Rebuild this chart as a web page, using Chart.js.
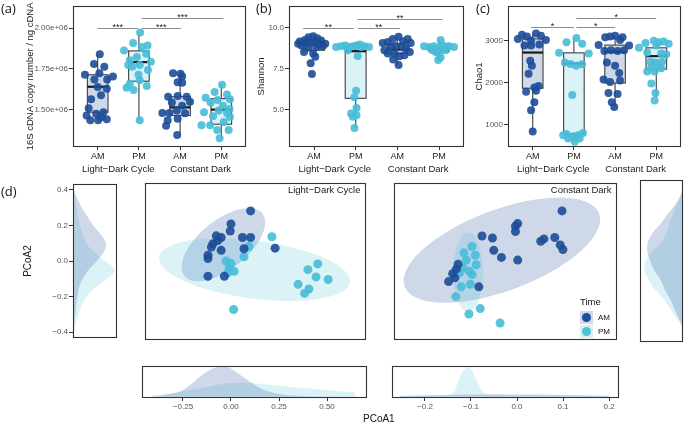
<!DOCTYPE html>
<html>
<head>
<meta charset="utf-8">
<title>Circadian gut microbiome – panels a–d</title>
<script src="https://cdn.jsdelivr.net/npm/chart.js@4.4.1/dist/chart.umd.min.js"></script>
<style>
  html, body { margin: 0; padding: 0; background: #fff; }
  #page { position: relative; width: 685px; height: 425px; overflow: hidden;
          font-family: "Liberation Sans", Arial, sans-serif; }
  #page canvas { position: absolute; }
  .tag { position: absolute; font-family: "Open Sans", sans-serif; font-size: 13px; line-height: 1; color: #111; }
  .txt { position: absolute; line-height: 1; color: #111; white-space: nowrap; }
  .key { position: absolute; width: 13px; height: 13px; }
  .key i { position: absolute; left: 2px; top: 2px; width: 9px; height: 9px; border-radius: 50%; }
</style>
</head>
<body>
<div id="page">
  <canvas id="chA" width="250" height="178" style="left:0;top:0"></canvas>
  <canvas id="chB" width="230" height="178" style="left:238px;top:0"></canvas>
  <canvas id="chC" width="217" height="178" style="left:468px;top:0"></canvas>
  <canvas id="denL" width="120" height="166" style="left:0;top:178px"></canvas>
  <canvas id="scLD" width="230" height="166" style="left:140px;top:178px"></canvas>
  <canvas id="scCD" width="232" height="166" style="left:389px;top:178px"></canvas>
  <canvas id="denR" width="47" height="166" style="left:638px;top:178px"></canvas>
  <canvas id="denBLD" width="230" height="50" style="left:140px;top:364px"></canvas>
  <canvas id="denBCD" width="232" height="50" style="left:390px;top:364px"></canvas>

  <div class="tag" style="left:1px;top:2px">(a)</div>
  <div class="tag" style="left:256px;top:2px">(b)</div>
  <div class="tag" style="left:476px;top:2px">(c)</div>
  <div class="tag" style="left:1px;top:185px">(d)</div>
  <div class="txt" style="left:363px;top:414px;font-size:10px">PCoA1</div>

  <div class="txt" style="left:580px;top:297px;font-size:9.5px">Time</div>
  <div class="key" style="left:580px;top:311px;background:#d2d9ea"><i style="background:#1f4e9a"></i></div>
  <div class="txt" style="left:598px;top:314px;font-size:8px">AM</div>
  <div class="key" style="left:580px;top:325px;background:#d8f0f6"><i style="background:#4fc0d9"></i></div>
  <div class="txt" style="left:598px;top:328px;font-size:8px">PM</div>
</div>

<script>
// ---------- data ----------
const GROUPS = ["AM", "PM", "AM", "PM"];
const CONDITIONS = ["Light−Dark Cycle", "Constant Dark"];

// (a) 16S cDNA copy number / ng cDNA
const copyTicks = [1.5e6, 1.75e6, 2.0e6];
const copyTickLabels = ["1.50e+06", "1.75e+06", "2.00e+06"];
// [lower whisker, Q1, median, Q3, upper whisker]
const copyBox = [
  [1.432e6, 1.482e6, 1.639e6, 1.713e6, 1.843e6],
  [1.432e6, 1.673e6, 1.791e6, 1.860e6, 1.974e6],
  [1.342e6, 1.462e6, 1.512e6, 1.578e6, 1.727e6],
  [1.321e6, 1.408e6, 1.498e6, 1.566e6, 1.652e6],
];
// [jittered group position, value]
const copyLdAM = [[1.05,1.839e6],[0.91,1.779e6],[1.16,1.763e6],[0.69,1.713e6],[1.04,1.723e6],[1.37,1.703e6],
  [0.92,1.683e6],[1.23,1.683e6],[1.00,1.637e6],[1.22,1.627e6],[1.08,1.586e6],[0.84,1.562e6],[0.78,1.506e6],
  [0.96,1.472e6],[1.14,1.482e6],[0.73,1.462e6],[1.09,1.452e6],[1.22,1.438e6],[0.82,1.432e6],[1.01,1.432e6]];
const copyLdPM = [[2.03,1.974e6],[1.86,1.908e6],[2.07,1.884e6],[1.64,1.863e6],[2.21,1.893e6],[1.78,1.803e6],
  [1.95,1.823e6],[2.18,1.843e6],[2.29,1.793e6],[1.74,1.773e6],[2.02,1.773e6],[1.84,1.763e6],[2.22,1.743e6],
  [1.99,1.713e6],[1.78,1.658e6],[2.02,1.679e6],[2.19,1.643e6],[1.70,1.633e6],[1.87,1.619e6],[2.02,1.432e6]];
const copyCdAM = [[3.01,1.719e6],[2.83,1.723e6],[3.05,1.703e6],[2.94,1.667e6],[3.05,1.663e6],[2.71,1.578e6],
  [2.94,1.582e6],[3.16,1.578e6],[3.24,1.546e6],[2.80,1.542e6],[3.05,1.522e6],[2.57,1.478e6],[2.74,1.478e6],
  [2.92,1.492e6],[3.12,1.476e6],[2.70,1.432e6],[2.94,1.442e6],[2.66,1.398e6],[2.93,1.342e6]];
const copyCdPM = [[4.02,1.652e6],[3.84,1.607e6],[4.14,1.592e6],[3.62,1.572e6],[3.91,1.558e6],[4.21,1.562e6],
  [3.74,1.542e6],[4.04,1.522e6],[4.20,1.502e6],[3.58,1.482e6],[3.94,1.492e6],[4.14,1.478e6],[3.80,1.458e6],
  [4.21,1.452e6],[3.52,1.402e6],[3.73,1.402e6],[4.06,1.422e6],[4.18,1.372e6],[3.90,1.372e6],[3.96,1.321e6]];
// [from, to, height, label]
const copySig = [[1, 1.97, 2.0e6, "***"], [2.07, 3.02, 2.0e6, "***"], [2.07, 4.05, 2.06e6, "***"]];

// (b) Shannon
const shanTicks = [5, 7.5, 10];
const shanTickLabels = ["5.0", "7.5", "10.0"];
const shanBox = [
  [8.21, 8.61, 8.95, 9.14, 9.47],
  [3.85, 5.67, 8.55, 8.60, 8.96],
  [7.71, 8.41, 8.65, 9.01, 9.44],
  [8.01, 8.55, 8.65, 8.85, 9.24],
];
const shanLdAM = [[0.66,9.14],[0.78,9.24],[0.87,9.40],[0.98,9.47],[1.08,9.34],[1.17,9.20],[1.27,9.01],
  [0.70,8.90],[0.82,9.05],[0.94,9.11],[1.03,9.14],[1.13,8.96],[0.87,8.76],[1.06,8.81],[0.76,8.51],
  [0.98,8.41],[1.03,8.21],[0.92,7.82],[0.95,7.16],[1.21,8.85],[0.62,9.01]];
const shanLdPM = [[1.53,8.81],[1.65,8.85],[1.75,8.90],[1.85,8.81],[1.94,8.85],[2.02,8.90],[2.10,8.96],
  [2.21,8.85],[2.32,8.81],[1.81,8.61],[2.05,8.26],[2.01,6.13],[1.97,5.73],[2.02,5.08],[1.89,4.74],
  [2.02,4.64],[1.93,4.54],[1.97,3.85],[2.13,8.81]];
const shanCdAM = [[2.65,9.05],[2.77,9.11],[2.89,9.30],[3.03,9.44],[3.14,9.16],[3.25,9.30],[3.32,9.05],
  [2.69,8.61],[2.85,8.81],[2.97,8.85],[3.11,8.85],[3.21,8.71],[3.30,8.51],[2.77,8.41],[2.93,8.41],
  [3.05,8.25],[3.17,8.31],[2.90,8.05],[3.03,7.71]];
const shanCdPM = [[3.64,8.85],[3.76,8.81],[3.88,8.85],[4.00,8.78],[4.10,8.90],[4.20,8.81],[4.36,8.81],
  [3.84,8.61],[3.96,8.65],[4.08,8.65],[4.16,8.61],[4.00,8.41],[3.92,8.51],[4.04,9.24],[4.04,8.17],
  [3.98,8.01],[4.24,8.85]];
const shanSig = [[0.74, 1.95, 9.96, "**"], [2.05, 3.06, 9.96, "**"], [2.05, 4.08, 10.55, "**"]];

// (c) Chao1
const chaoTicks = [1000, 2000, 3000];
const chaoTickLabels = ["1000", "2000", "3000"];
const chaoBox = [
  [830, 1861, 2714, 3040, 3170],
  [581, 767, 2451, 2707, 3063],
  [1412, 1986, 2730, 2892, 3116],
  [1644, 2319, 2628, 2827, 3032],
];
const chaoLdAM = [[0.64,3040],[0.74,3141],[0.86,3094],[0.96,3000],[1.08,3170],[1.20,3116],[1.32,3016],
  [0.80,2884],[0.96,2884],[1.16,2908],[0.94,2520],[0.98,2396],[0.90,2209],[1.14,1916],[1.04,1877],
  [0.84,1777],[1.08,1800],[1.04,1528],[0.96,1335],[1.00,830]];
const chaoLdPM = [[1.64,2707],[1.82,2962],[2.06,3063],[2.20,2923],[2.36,2690],[1.78,2473],[1.92,2442],
  [2.06,2396],[2.20,2434],[1.96,1699],[1.82,767],[1.98,713],[2.10,737],[2.22,791],[1.74,737],
  [1.86,659],[2.14,659],[2.02,581]];
const chaoCdAM = [[2.60,2892],[2.76,3079],[2.88,3094],[3.00,3116],[3.12,3016],[3.18,3079],[3.34,2884],
  [2.74,2753],[2.90,2768],[3.06,2753],[3.22,2768],[2.80,2473],[3.00,2396],[3.10,2225],[2.72,2070],
  [2.88,2008],[3.12,2047],[2.84,1746],[3.06,1722],[2.92,1528],[2.98,1412]];
const chaoCdPM = [[3.58,2827],[3.74,2942],[3.94,2996],[4.06,2962],[4.18,2980],[4.30,2923],[4.00,2884],
  [3.78,2715],[4.12,2690],[4.24,2675],[3.86,2496],[3.98,2473],[4.14,2496],[3.88,2364],[4.04,2380],
  [3.78,2264],[3.96,2264],[4.12,2341],[3.88,1977],[3.98,1745],[3.96,1567]];
const chaoSig = [[0.96, 2.0, 3312, "*"], [2.06, 3.0, 3312, "*"], [2.06, 4.0, 3528, "*"]];

// (d) PCoA coordinates [PCoA1, PCoA2]
const ldAM = [[0.099,0.277],[-0.005,0.205],[-0.009,0.166],[-0.083,0.139],[-0.057,0.130],[0.056,0.130],
  [0.099,0.130],[-0.101,0.095],[-0.109,0.077],[-0.057,0.059],[0.064,0.068],[-0.127,0.032],[-0.127,0.014],
  [-0.127,-0.084],[-0.040,-0.084],[0.229,0.071],[-0.075,0.113]];
const ldPM = [[0.212,0.134],[0.090,0.080],[0.064,0.023],[-0.031,0.000],[-0.005,-0.013],[-0.014,-0.039],
  [0.012,-0.057],[-0.022,-0.066],[0.455,-0.016],[0.403,-0.048],[0.446,-0.088],[0.510,-0.102],
  [0.351,-0.129],[0.408,-0.155],[0.385,-0.179],[0.009,-0.268]];
const cdAM = [[0.099,0.277],[0.001,0.207],[-0.004,0.193],[-0.004,0.163],[-0.078,0.138],[-0.055,0.127],
  [0.052,0.109],[0.059,0.122],[0.083,0.130],[0.095,0.089],[0.101,0.063],[-0.052,0.059],[-0.035,0.020],
  [0.001,0.005],[-0.131,-0.018],[-0.135,-0.045],[-0.143,-0.070],[-0.152,-0.114],[-0.085,-0.143],[-0.138,-0.093]];
const cdPM = [[-0.100,0.080],[-0.118,0.045],[-0.093,0.032],[-0.113,0.005],[-0.091,-0.021],[-0.120,-0.039],
  [-0.106,-0.057],[-0.128,-0.066],[-0.100,-0.075],[-0.124,-0.143],[-0.104,-0.129],[-0.136,-0.197],
  [-0.082,-0.263],[-0.107,-0.293],[-0.038,-0.343]];
// 95% ellipses: centre and two half-axis vectors, data units
const ldEllAM = { c: [-0.045, 0.090], u: [0.205, 0.174], v: [0.083, -0.103] };
const ldEllPM = { c: [0.120, -0.048], u: [0.506, -0.069], v: [-0.020, -0.159] };
const cdEllAM = { c: [-0.034, 0.060], u: [0.215, 0.202], v: [0.032, -0.209] };
const cdEllPM = { c: [-0.109, -0.061], u: [0.0, 0.219], v: [0.033, 0.0] };

// marginal densities (relative height)
const pc2Grid = [0.40,0.35,0.30,0.25,0.20,0.15,0.10,0.05,0.00,-0.05,-0.10,-0.15,-0.20,-0.25,-0.30,-0.35,-0.40];
const ldDen2AM = [0.02,0.10,0.20,0.33,0.46,0.63,0.75,0.70,0.54,0.35,0.22,0.14,0.10,0.07,0.05,0.03,0.01];
const ldDen2PM = [0.02,0.05,0.08,0.11,0.16,0.22,0.30,0.48,0.73,0.95,0.77,0.50,0.31,0.20,0.12,0.07,0.02];
const cdDen2AM = [0.00,0.06,0.19,0.36,0.52,0.71,0.82,0.83,0.76,0.67,0.52,0.43,0.31,0.21,0.12,0.02,0.00];
const cdDen2PM = [0.00,0.06,0.15,0.24,0.32,0.38,0.50,0.72,0.87,0.90,0.80,0.66,0.47,0.31,0.18,0.02,0.00];
const ldPc1Grid = [-0.41,-0.35,-0.30,-0.25,-0.20,-0.15,-0.10,-0.05,0.00,0.05,0.10,0.15,0.20,0.25,0.30,0.40,0.50,0.60,0.646];
const ldDen1AM = [0.00,0.05,0.11,0.22,0.44,0.70,0.89,0.97,0.91,0.69,0.48,0.28,0.16,0.09,0.05,0.02,0.01,0.00,0.00];
const ldDen1PM = [0.05,0.08,0.11,0.18,0.23,0.29,0.35,0.40,0.44,0.45,0.44,0.42,0.39,0.36,0.32,0.27,0.21,0.16,0.14];
const cdPc1Grid = [-0.254,-0.20,-0.16,-0.146,-0.135,-0.124,-0.113,-0.106,-0.099,-0.088,-0.077,-0.066,-0.044,0.0,0.05,0.10,0.15,0.20];
const cdDen1AM = [0.03,0.05,0.06,0.06,0.065,0.065,0.07,0.07,0.07,0.07,0.075,0.075,0.08,0.07,0.07,0.06,0.05,0.03];
const cdDen1PM = [0.02,0.03,0.04,0.06,0.22,0.65,0.91,0.95,0.88,0.54,0.22,0.09,0.05,0.04,0.035,0.03,0.025,0.02];

const pc2Ticks = [-0.4, -0.2, 0, 0.2, 0.4];
const pc2TickLabels = ["−0.4", "−0.2", "0.0", "0.2", "0.4"];
const ldPc1Ticks = [-0.25, 0, 0.25, 0.5];
const ldPc1TickLabels = ["−0.25", "0.00", "0.25", "0.50"];
const cdPc1Ticks = [-0.2, -0.1, 0, 0.1, 0.2];
const cdPc1TickLabels = ["−0.2", "−0.1", "0.0", "0.1", "0.2"];

// ---------- styling ----------
const AM_PT = "rgba(29,76,152,0.9)";
const PM_PT = "rgba(72,189,216,0.9)";
const AM_FILL = "rgba(31,78,154,0.22)";
const PM_FILL = "rgba(77,191,217,0.2)";
const INK = "#1a1a1a";
const TICK = "#555";
const FONT = "'Liberation Sans', Arial, sans-serif";

Chart.defaults.font.family = FONT;
Chart.defaults.animation = false;
Chart.defaults.plugins.legend.display = false;
Chart.defaults.plugins.tooltip.enabled = false;

const xy = (arr) => arr.map(([x, y]) => ({ x, y }));
const setTicks = (vals) => (axis) => { axis.ticks = vals.map((v) => ({ value: v })); };

const frame = {
  id: "frame",
  afterDraw(chart) {
    const { ctx, chartArea: a } = chart;
    ctx.save();
    ctx.strokeStyle = "#333";
    ctx.lineWidth = 1.1;
    ctx.strokeRect(Math.round(a.left) + 0.5, Math.round(a.top) + 0.5,
      Math.round(a.right - a.left) - 1, Math.round(a.bottom - a.top) - 1);
    ctx.restore();
  },
};

function boxes(stats) {
  return {
    id: "boxes",
    beforeDatasetsDraw(chart) {
      const { ctx, scales: { x, y } } = chart;
      ctx.save();
      stats.forEach(([lo, q1, med, q3, hi], i) => {
        const cx = x.getPixelForValue(i + 1);
        const hw = x.getPixelForValue(i + 1.25) - cx;
        ctx.strokeStyle = "#4d4d4d";
        ctx.lineWidth = 1.2;
        ctx.beginPath();
        ctx.moveTo(cx, y.getPixelForValue(hi)); ctx.lineTo(cx, y.getPixelForValue(q3));
        ctx.moveTo(cx, y.getPixelForValue(q1)); ctx.lineTo(cx, y.getPixelForValue(lo));
        ctx.stroke();
        const top = y.getPixelForValue(q3), bot = y.getPixelForValue(q1);
        ctx.fillStyle = i % 2 ? PM_FILL : AM_FILL;
        ctx.fillRect(cx - hw, top, 2 * hw, bot - top);
        ctx.strokeRect(cx - hw, top, 2 * hw, bot - top);
        ctx.strokeStyle = INK;
        ctx.lineWidth = 2.2;
        ctx.beginPath();
        ctx.moveTo(cx - hw, y.getPixelForValue(med)); ctx.lineTo(cx + hw, y.getPixelForValue(med));
        ctx.stroke();
      });
      ctx.restore();
    },
  };
}

function brackets(list) {
  return {
    id: "brackets",
    afterDatasetsDraw(chart) {
      const { ctx, scales: { x, y } } = chart;
      ctx.save();
      ctx.strokeStyle = "#8c8c8c";
      ctx.lineWidth = 1;
      ctx.fillStyle = INK;
      ctx.font = `9px ${FONT}`;
      ctx.textAlign = "center";
      ctx.textBaseline = "alphabetic";
      list.forEach(([a, b, v, lab]) => {
        const py = Math.round(y.getPixelForValue(v)) + 0.5;
        ctx.beginPath();
        ctx.moveTo(x.getPixelForValue(a), py); ctx.lineTo(x.getPixelForValue(b), py);
        ctx.stroke();
        ctx.fillText(lab, (x.getPixelForValue(a) + x.getPixelForValue(b)) / 2, py + 1.5);
      });
      ctx.restore();
    },
  };
}

const groupLabels = {
  id: "groupLabels",
  afterDraw(chart) {
    const { ctx, chartArea: a, scales: { x } } = chart;
    ctx.save();
    ctx.fillStyle = INK;
    ctx.font = `9.5px ${FONT}`;
    ctx.textAlign = "center";
    ctx.textBaseline = "middle";
    CONDITIONS.forEach((c, i) => ctx.fillText(c, x.getPixelForValue(1.5 + 2 * i), a.bottom + 22.5));
    ctx.restore();
  },
};

function boxChart(id, o) {
  const pts = [o.ldAM, o.ldPM, o.cdAM, o.cdPM];
  return new Chart(document.getElementById(id), {
    type: "scatter",
    data: {
      datasets: pts.map((p, i) => ({
        data: xy(p), backgroundColor: i % 2 ? PM_PT : AM_PT, borderWidth: 0,
        pointRadius: 4, pointHoverRadius: 4,
      })),
    },
    options: {
      responsive: false,
      layout: { padding: { left: 0, top: 1, right: o.padRight, bottom: 0 } },
      scales: {
        x: {
          type: "linear", min: 0.4, max: 4.6,
          afterBuildTicks: setTicks([1, 2, 3, 4]),
          afterFit: (a) => { a.height = 31; },
          border: { display: false },
          grid: { drawOnChartArea: false, tickLength: 3, color: "#333" },
          ticks: { color: INK, font: { size: 9 }, padding: 1, autoSkip: false, maxRotation: 0,
            callback: (v, i) => GROUPS[i] },
        },
        y: {
          min: o.min, max: o.max,
          afterBuildTicks: setTicks(o.ticks),
          afterFit: (a) => { a.width = o.yWidth; },
          border: { display: false },
          grid: { drawOnChartArea: false, tickLength: 4, color: "#333" },
          ticks: { color: TICK, font: { size: 8 }, padding: 1, autoSkip: false,
            callback: (v, i) => o.tickLabels[i] },
          title: { display: true, text: o.title, color: INK, font: { size: 9.5 },
            padding: { top: o.titlePad, bottom: 0 } },
        },
      },
    },
    plugins: [boxes(o.box), brackets(o.sig), groupLabels, frame],
  });
}

boxChart("chA", { ldAM: copyLdAM, ldPM: copyLdPM, cdAM: copyCdAM, cdPM: copyCdPM, box: copyBox,
  sig: copySig, ticks: copyTicks, tickLabels: copyTickLabels, min: 1.2677e6, max: 2.138e6,
  title: "16S cDNA copy number / ng cDNA", titlePad: 25, yWidth: 73, padRight: 3 });
boxChart("chB", { ldAM: shanLdAM, ldPM: shanLdPM, cdAM: shanCdAM, cdPM: shanCdPM, box: shanBox,
  sig: shanSig, ticks: shanTicks, tickLabels: shanTickLabels, min: 2.696, max: 11.327,
  title: "Shannon", titlePad: 18, yWidth: 51, padRight: 2 });
boxChart("chC", { ldAM: chaoLdAM, ldPM: chaoLdPM, cdAM: chaoCdAM, cdPM: chaoCdPM, box: chaoBox,
  sig: chaoSig, ticks: chaoTicks, tickLabels: chaoTickLabels, min: 458, max: 3830,
  title: "Chao1", titlePad: 6, yWidth: 40, padRight: 2 });

// ---------- (d) ordination ----------
const PC2_MIN = -0.434, PC2_MAX = 0.434;
const LD_X = [-0.4635, 0.7083];
const CD_X = [-0.2739, 0.2196];

function ellipses(list) {
  return {
    id: "ellipses",
    beforeDatasetsDraw(chart) {
      const { ctx, chartArea: a, scales: { x, y } } = chart;
      ctx.save();
      ctx.beginPath();
      ctx.rect(a.left, a.top, a.right - a.left, a.bottom - a.top);
      ctx.clip();
      list.forEach((e, i) => {
        ctx.beginPath();
        for (let k = 0; k <= 96; k++) {
          const t = (k / 96) * 2 * Math.PI;
          const px = x.getPixelForValue(e.c[0] + e.u[0] * Math.cos(t) + e.v[0] * Math.sin(t));
          const py = y.getPixelForValue(e.c[1] + e.u[1] * Math.cos(t) + e.v[1] * Math.sin(t));
          if (k) ctx.lineTo(px, py); else ctx.moveTo(px, py);
        }
        ctx.closePath();
        ctx.fillStyle = i ? PM_FILL : AM_FILL;
        ctx.fill();
      });
      ctx.restore();
    },
  };
}

function corner(text) {
  return {
    id: "corner",
    afterDraw(chart) {
      const { ctx, chartArea: a } = chart;
      ctx.save();
      ctx.fillStyle = INK;
      ctx.font = `9.5px ${FONT}`;
      ctx.textAlign = "right";
      ctx.textBaseline = "middle";
      ctx.fillText(text, a.right - 5, a.top + 8);
      ctx.restore();
    },
  };
}

function pcoaChart(id, am, pm, xr, ells, label) {
  return new Chart(document.getElementById(id), {
    type: "scatter",
    data: {
      datasets: [
        { data: xy(am), backgroundColor: AM_PT, borderWidth: 0, pointRadius: 4.5, pointHoverRadius: 4.5 },
        { data: xy(pm), backgroundColor: PM_PT, borderWidth: 0, pointRadius: 4.5, pointHoverRadius: 4.5 },
      ],
    },
    options: {
      responsive: false,
      layout: { padding: { left: 2, top: 2, right: 3, bottom: 2 } },
      scales: {
        x: { display: false, min: xr[0], max: xr[1] },
        y: { display: false, min: PC2_MIN, max: PC2_MAX },
      },
    },
    plugins: [ellipses(ells), corner(label), frame],
  });
}

pcoaChart("scLD", ldAM, ldPM, LD_X, [ldEllAM, ldEllPM], CONDITIONS[0]);
pcoaChart("scCD", cdAM, cdPM, CD_X, [cdEllAM, cdEllPM], CONDITIONS[1]);

function densSet(grid, vals, fill, vertical) {
  return {
    data: grid.map((g, i) => (vertical ? { x: vals[i], y: g } : { x: g, y: vals[i] })),
    showLine: true, fill: "origin", backgroundColor: fill, borderWidth: 0,
    pointRadius: 0, tension: 0.3,
  };
}

// left marginal (Light-Dark), PCoA2
new Chart(document.getElementById("denL"), {
  type: "scatter",
  data: { datasets: [densSet(pc2Grid, ldDen2AM, AM_FILL, true), densSet(pc2Grid, ldDen2PM, PM_FILL, true)] },
  options: {
    responsive: false, indexAxis: "y",
    layout: { padding: { left: 0, top: 2, right: 3, bottom: 2 } },
    scales: {
      x: { display: false, min: 0, max: 1.0 },
      y: {
        min: PC2_MIN, max: PC2_MAX,
        afterBuildTicks: setTicks(pc2Ticks),
        afterFit: (a) => { a.width = 73; },
        border: { display: false },
        grid: { drawOnChartArea: false, tickLength: 4, color: "#333" },
        ticks: { color: TICK, font: { size: 8 }, padding: 1, autoSkip: false,
          callback: (v, i) => pc2TickLabels[i] },
        title: { display: true, text: "PCoA2", color: INK, font: { size: 10 }, padding: { top: 22, bottom: 0 } },
      },
    },
  },
  plugins: [frame],
});

// right marginal (Constant Dark), PCoA2, mirrored
new Chart(document.getElementById("denR"), {
  type: "scatter",
  data: { datasets: [densSet(pc2Grid, cdDen2AM, AM_FILL, true), densSet(pc2Grid, cdDen2PM, PM_FILL, true)] },
  options: {
    responsive: false, indexAxis: "y",
    layout: { padding: { left: 2, top: 2, right: 2, bottom: 2 } },
    scales: {
      x: { display: false, min: 0, max: 1.0, reverse: true },
      y: { display: false, min: PC2_MIN, max: PC2_MAX },
    },
  },
  plugins: [frame],
});

function bottomDensity(id, grid, am, pm, xr, ticks, labels, pad) {
  return new Chart(document.getElementById(id), {
    type: "scatter",
    data: { datasets: [densSet(grid, am, AM_FILL, false), densSet(grid, pm, PM_FILL, false)] },
    options: {
      responsive: false,
      layout: { padding: { left: pad[0], top: 2, right: pad[1], bottom: 0 } },
      scales: {
        x: {
          min: xr[0], max: xr[1],
          afterBuildTicks: setTicks(ticks),
          afterFit: (a) => { a.height = 16; },
          border: { display: false },
          grid: { drawOnChartArea: false, tickLength: 3, color: "#333" },
          ticks: { color: TICK, font: { size: 8 }, padding: 1, autoSkip: false, maxRotation: 0,
            callback: (v, i) => labels[i] },
        },
        y: { display: false, min: -0.04, max: 0.99 },
      },
    },
    plugins: [frame],
  });
}

bottomDensity("denBLD", ldPc1Grid, ldDen1AM, ldDen1PM, LD_X, ldPc1Ticks, ldPc1TickLabels, [2, 3]);
bottomDensity("denBCD", cdPc1Grid, cdDen1AM, cdDen1PM, [-0.2717, 0.2217], cdPc1Ticks, cdPc1TickLabels, [2, 3]);
</script>
</body>
</html>
